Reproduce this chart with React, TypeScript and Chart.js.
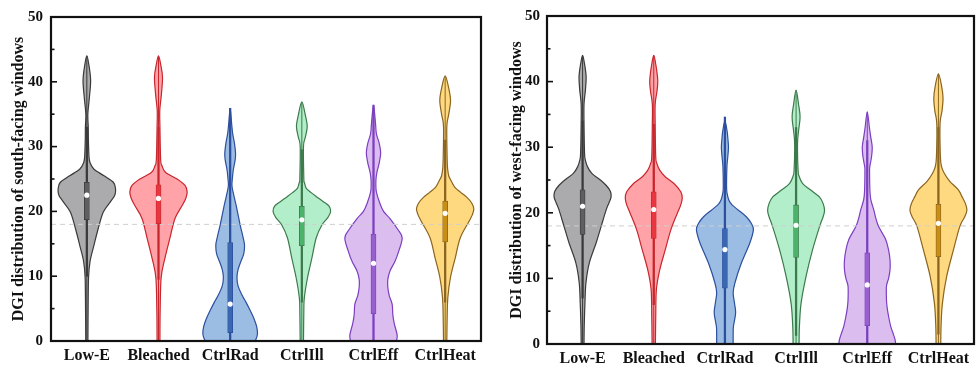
import React, { useEffect, useRef } from 'react';
import { Chart, registerables } from 'chart.js';

Chart.register(...registerables);

const categories = ['Low-E', 'Bleached', 'CtrlRad', 'CtrlIll', 'CtrlEff', 'CtrlHeat'];
const yTickValues = [0, 10, 20, 30, 40, 50];
const comfortLimit = 18;

const fillColors = ['#abaaad', '#ffa3a8', '#9bbde4', '#b3eecb', '#dcbdef', '#fed97f'];
const edgeColors = ['#3a3a3a', '#c8262d', '#2c4f9e', '#3d7a4b', '#7b3fc0', '#8b6420'];
const boxColors = ['#5f5f5f', '#e8373f', '#3a68b0', '#4bb46a', '#9a5fcf', '#c98e15'];

// Kernel density outlines: [DGI value, half-width in category units]
const southLowE = [[0, .015], [5, .018], [9.8, .024], [12.3, .045], [14.8, .1], [17.4, .16], [19.9, .23], [21.5, .33], [22.5, .39], [23.5, .40], [24.5, .37], [25.5, .24], [26.5, .1], [27.5, .045], [28.5, .03], [31, .022], [33, .02], [35, .014], [37.5, .035], [40.2, .053], [42.5, .03], [44, 0]];
const southBleached = [[0, .02], [4.7, .023], [9.8, .037], [12.8, .09], [15.9, .16], [18.9, .23], [20.9, .33], [22, .38], [23, .40], [24, .37], [25, .26], [26, .1], [27, .05], [28, .03], [33, .02], [35.6, .018], [38, .04], [40.7, .056], [42.7, .03], [44, 0]];
const southCtrlRad = [[0, .35], [1, .38], [2.2, .37], [3.5, .33], [4.7, .28], [6, .22], [7.2, .16], [8.5, .11], [9.8, .095], [11, .11], [12.3, .15], [13.5, .19], [14.8, .2], [16, .18], [17.9, .14], [20.9, .084], [23, .04], [24, .025], [25, .03], [26.5, .045], [28, .07], [29, .075], [30.5, .06], [32, .035], [33.6, .02], [35.9, 0]];
const southCtrlIll = [[0, .023], [4.7, .028], [6.7, .035], [9.8, .08], [12.8, .14], [15.9, .2], [17.9, .28], [19, .36], [19.9, .40], [20.8, .38], [21.5, .3], [22.3, .2], [22.9, .13], [23.6, .06], [24.5, .035], [25, .028], [30, .023], [31.5, .05], [33.1, .075], [34.8, .05], [36.9, 0]];
const southCtrlEff = [[0, .32], [0.9, .33], [2.7, .29], [4, .27], [5.7, .26], [7, .22], [8.3, .2], [9.5, .2], [10.8, .23], [12.3, .3], [13.8, .35], [15.9, .40], [17.2, .34], [18.9, .23], [20, .14], [21.4, .084], [23, .04], [24, .033], [25, .035], [26, .047], [27.5, .08], [29, .10], [30.5, .08], [32, .04], [33.6, .028], [36.4, 0]];
const southCtrlHeat = [[0, .023], [3.7, .028], [6.7, .037], [9.8, .074], [12.8, .14], [15.9, .21], [18.4, .33], [19.5, .38], [20.4, .40], [21.3, .37], [22.2, .3], [22.9, .22], [23.8, .13], [25, .07], [25.5, .05], [26.5, .035], [28, .028], [33.1, .023], [35, .05], [37.1, .075], [39, .05], [40.9, 0]];

const westLowE = [[0, .02], [2.7, .023], [6.2, .033], [9.3, .047], [12.3, .093], [15.4, .19], [17.9, .26], [20.4, .33], [21.5, .37], [22.4, .40], [23.3, .39], [24.2, .33], [25, .25], [26, .13], [27, .07], [28, .04], [29, .028], [33.6, .02], [36.6, .02], [38.7, .04], [40.7, .05], [42.5, .03], [44, 0]];
const westBleached = [[0, .023], [4.2, .028], [8.3, .037], [11.3, .084], [14.3, .16], [17.4, .24], [19.9, .33], [21.2, .38], [22.2, .40], [23.2, .38], [24.5, .28], [25.5, .16], [26.5, .084], [27.5, .045], [28.5, .028], [33.6, .02], [36.6, .02], [38.5, .045], [40.2, .056], [42.5, .03], [44, 0]];
const westCtrlRad = [[0, .116], [1.5, .116], [2.7, .12], [4.7, .15], [6.2, .135], [7.8, .116], [9.3, .14], [12.3, .23], [15.4, .35], [17.4, .40], [18.4, .37], [19.4, .3], [20.4, .19], [21.2, .1], [21.9, .056], [23, .03], [24, .023], [27, .028], [28.5, .04], [30, .05], [31.5, .04], [32.5, .03], [34, 0]];
const westCtrlIll = [[0, .042], [2.7, .047], [6.2, .07], [10.3, .14], [14.3, .23], [17.9, .33], [19.4, .38], [20.4, .40], [21.4, .38], [22.4, .33], [23.5, .2], [24.5, .09], [25.5, .045], [26.5, .028], [30.5, .02], [32.5, .035], [34.6, .056], [36.5, .035], [38.7, 0]];
const westCtrlEff = [[0, .40], [0.7, .39], [1.4, .37], [2.7, .33], [4.2, .30], [5.5, .28], [6.7, .27], [8.8, .27], [10, .3], [11.3, .32], [12.8, .32], [14.3, .30], [15.9, .26], [17.9, .16], [19.2, .12], [20.4, .093], [22, .05], [23.5, .037], [26, .033], [27, .035], [28.5, .06], [30, .07], [31.5, .05], [33, .03], [35.4, 0]];
const westCtrlHeat = [[0, .033], [2.7, .037], [6.2, .056], [10.3, .116], [14.3, .21], [17.9, .30], [19.4, .37], [20.4, .40], [21.4, .38], [22.5, .33], [23.5, .28], [24.8, .16], [26, .084], [27, .045], [28.5, .028], [33.6, .023], [35.5, .05], [37.4, .065], [39.3, .045], [41.2, 0]];

// Box-plot statistics per category
const southMedian = [22.5, 22.0, 5.7, 18.7, 12.0, 19.7];
const southQ1 = [18.7, 18.1, 1.3, 14.7, 4.2, 15.3];
const southQ3 = [24.5, 24.1, 15.2, 20.8, 16.5, 21.6];
const southWhiskerLow = [10, 9.5, 0, 6, 0, 6];
const southWhiskerHigh = [33, 33, 35.9, 29.5, 36.4, 31];

const westMedian = [21.0, 20.5, 14.4, 18.1, 9.0, 18.4];
const westQ1 = [16.7, 16.1, 8.5, 13.2, 2.8, 13.3];
const westQ3 = [23.5, 23.2, 17.6, 21.2, 13.9, 21.3];
const westWhiskerLow = [7, 6, 0, 1.3, 0, 1.5];
const westWhiskerHigh = [34, 33.5, 34.6, 33, 31, 33];

const FONT = "'Liberation Serif', 'Times New Roman', serif";

type Pt = { x: number; y: number };

function splineThrough(ctx: CanvasRenderingContext2D, pts: Pt[]) {
  for (let i = 0; i < pts.length - 1; i++) {
    const p0 = pts[i - 1] || pts[i];
    const p1 = pts[i];
    const p2 = pts[i + 1];
    const p3 = pts[i + 2] || p2;
    ctx.bezierCurveTo(
      p1.x + (p2.x - p0.x) / 6, p1.y + (p2.y - p0.y) / 6,
      p2.x - (p3.x - p1.x) / 6, p2.y - (p3.y - p1.y) / 6,
      p2.x, p2.y
    );
  }
}

const violinPlugin = {
  id: 'violins',
  beforeDatasetsDraw(chart: any, _args: any, opts: any) {
    const { ctx, chartArea } = chart;
    const xs = chart.scales.x;
    const ys = chart.scales.y;
    const unit = xs.getPixelForValue(1) - xs.getPixelForValue(0);
    ctx.save();
    ctx.beginPath();
    ctx.rect(chartArea.left, chartArea.top, chartArea.right - chartArea.left, chartArea.bottom - chartArea.top);
    ctx.clip();
    (opts.profiles as number[][][]).forEach((profile, i) => {
      const cx = xs.getPixelForValue(i);
      const right: Pt[] = profile.map(([v, w]) => ({ x: cx + w * unit, y: ys.getPixelForValue(v) }));
      const left: Pt[] = profile.slice(0, -1).reverse().map(([v, w]) => ({ x: cx - w * unit, y: ys.getPixelForValue(v) }));
      const outline = right.concat(left);
      ctx.beginPath();
      ctx.moveTo(outline[0].x, outline[0].y);
      splineThrough(ctx, outline);
      ctx.closePath();
      ctx.fillStyle = fillColors[i];
      ctx.fill();
      ctx.lineWidth = 1.2;
      ctx.strokeStyle = edgeColors[i];
      ctx.stroke();
      // thin centre line over the full range
      ctx.beginPath();
      ctx.moveTo(cx, ys.getPixelForValue(profile[0][0]));
      ctx.lineTo(cx, ys.getPixelForValue(profile[profile.length - 1][0]));
      ctx.lineWidth = 1;
      ctx.stroke();
    });
    // reference threshold
    const yLim = ys.getPixelForValue(comfortLimit);
    ctx.beginPath();
    ctx.setLineDash([5, 4]);
    ctx.moveTo(chartArea.left, yLim);
    ctx.lineTo(chartArea.right, yLim);
    ctx.lineWidth = 1;
    ctx.strokeStyle = '#cfcfcf';
    ctx.stroke();
    ctx.restore();
  },
  afterDraw(chart: any) {
    const { ctx, chartArea } = chart;
    const ys = chart.scales.y;
    ctx.save();
    ctx.strokeStyle = '#111';
    ctx.lineWidth = 1.6;
    for (let v = 0; v <= 50; v += 5) {
      const y = ys.getPixelForValue(v);
      const len = v % 10 === 0 ? 6 : 3.5;
      ctx.beginPath();
      ctx.moveTo(chartArea.left, y);
      ctx.lineTo(chartArea.left + len, y);
      ctx.stroke();
    }
    ctx.lineWidth = 2.2;
    ctx.strokeRect(chartArea.left, chartArea.top, chartArea.right - chartArea.left, chartArea.bottom - chartArea.top);
    ctx.restore();
  },
};

type PanelProps = {
  left: number;
  width: number;
  title: string;
  profiles: number[][][];
  median: number[];
  q1: number[];
  q3: number[];
  whiskerLow: number[];
  whiskerHigh: number[];
  yWidth: number;
  padTop: number;
  padRight: number;
  xHeight: number;
  titlePad: number;
  tickPad: number;
};

function Panel(p: PanelProps) {
  const ref = useRef<HTMLCanvasElement | null>(null);
  useEffect(() => {
    if (!ref.current) return;
    const chart = new Chart(ref.current, {
      type: 'bar',
      data: {
        labels: categories,
        datasets: [
          {
            type: 'bar',
            data: categories.map((_, i) => [p.whiskerLow[i], p.whiskerHigh[i]]) as any,
            backgroundColor: edgeColors,
            barThickness: 1.6,
            grouped: false,
            order: 3,
          } as any,
          {
            type: 'bar',
            data: categories.map((_, i) => [p.q1[i], p.q3[i]]) as any,
            backgroundColor: boxColors,
            borderColor: edgeColors,
            borderWidth: 0.8,
            borderSkipped: false,
            barThickness: 5,
            grouped: false,
            order: 2,
          } as any,
          {
            type: 'line',
            data: p.median,
            showLine: false,
            pointRadius: 2.6,
            pointBackgroundColor: '#ffffff',
            pointBorderWidth: 0,
            order: 1,
          } as any,
        ],
      },
      options: {
        responsive: false,
        animation: false,
        events: [],
        layout: { padding: { top: p.padTop, right: p.padRight, left: 0, bottom: 0 } },
        plugins: {
          legend: { display: false },
          tooltip: { enabled: false },
          violins: { profiles: p.profiles },
        } as any,
        scales: {
          x: {
            type: 'category',
            offset: true,
            grid: { display: false, drawTicks: false },
            border: { display: false },
            ticks: { color: '#111', padding: 5, font: { family: FONT, size: 16, weight: 'bold' } },
            afterFit: (s: any) => { s.height = p.xHeight; },
          },
          y: {
            min: 0,
            max: 50,
            afterBuildTicks: (s: any) => { s.ticks = yTickValues.map((v) => ({ value: v })); },
            grid: { display: false, drawTicks: false },
            border: { display: false },
            ticks: { color: '#111', padding: p.tickPad, font: { family: FONT, size: 15, weight: 'bold' } },
            title: {
              display: true,
              text: p.title,
              color: '#111',
              padding: { top: p.titlePad, bottom: 0 },
              font: { family: FONT, size: 16, weight: 'bold' },
            },
            afterFit: (s: any) => { s.width = p.yWidth; },
          },
        },
      } as any,
      plugins: [violinPlugin],
    });
    return () => chart.destroy();
  }, []);
  return (
    <canvas
      ref={ref}
      width={p.width}
      height={372}
      style={{ position: 'absolute', left: p.left, top: 0, width: p.width, height: 372 }}
    />
  );
}

export default function App() {
  return (
    <div style={{ position: 'fixed', left: 0, top: 0, width: 976, height: 372, overflow: 'hidden', background: '#fff' }}>
      <Panel
        left={0}
        width={490}
        title="DGI distribution of south-facing windows"
        profiles={[southLowE, southBleached, southCtrlRad, southCtrlIll, southCtrlEff, southCtrlHeat]}
        median={southMedian}
        q1={southQ1}
        q3={southQ3}
        whiskerLow={southWhiskerLow}
        whiskerHigh={southWhiskerHigh}
        yWidth={51}
        padTop={12}
        padRight={9}
        xHeight={31}
        titlePad={9}
        tickPad={8}
      />
      <Panel
        left={490}
        width={488}
        title="DGI distribution of west-facing windows"
        profiles={[westLowE, westBleached, westCtrlRad, westCtrlIll, westCtrlEff, westCtrlHeat]}
        median={westMedian}
        q1={westQ1}
        q3={westQ3}
        whiskerLow={westWhiskerLow}
        whiskerHigh={westWhiskerHigh}
        yWidth={57}
        padTop={15}
        padRight={1}
        xHeight={28}
        titlePad={17}
        tickPad={7}
      />
    </div>
  );
}
